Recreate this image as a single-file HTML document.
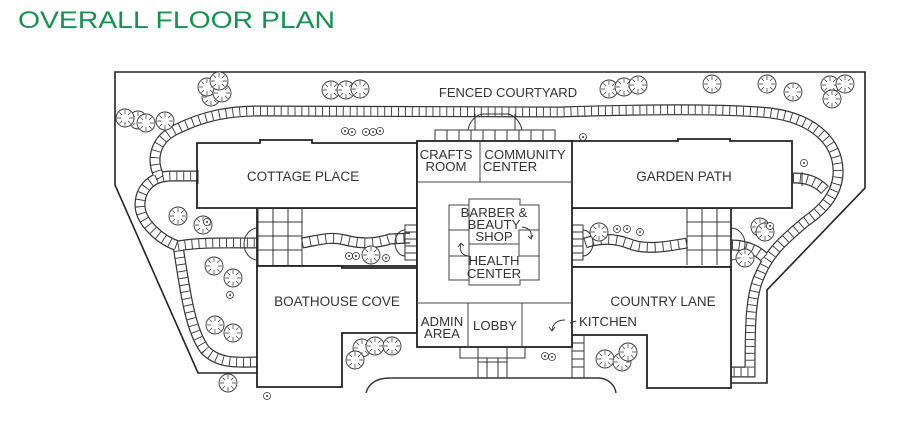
<!DOCTYPE html>
<html><head><meta charset="utf-8"><style>
html,body{margin:0;padding:0;background:#fff;width:900px;height:426px;overflow:hidden}
svg{display:block}
text{font-family:"Liberation Sans",Arial,sans-serif;fill:#333}
</style></head><body>
<svg width="900" height="426" viewBox="0 0 900 426" xmlns="http://www.w3.org/2000/svg">
<defs>
<g id="t">
<circle r="9" fill="#fff" stroke="#333" stroke-width="0.9"/>
<path d="M0,-8V-4M0,8V4M-8,0H-4M8,0H4M-5.6,-5.6L-3,-3M5.6,5.6L3,3M-5.6,5.6L-3,3M5.6,-5.6L3,-3" stroke="#333" stroke-width="0.7"/>
</g>
<g id="s"><circle r="3.5" fill="#fff" stroke="#333" stroke-width="0.8"/><circle r="1" fill="#333"/></g>
</defs>
<text x="18" y="28" font-size="24" textLength="317" lengthAdjust="spacingAndGlyphs" style="fill:#139250">OVERALL FLOOR PLAN</text>

<path d="M257,373 L198,373 L115,185 L115,72 L865,72 L865,188 L767,290 L767,383 L732,383" fill="none" stroke="#222" stroke-width="1.6"/>

<g fill="none">
<path d="M198,176 L172,176 C148,176 140,192 140,205 C140,222 160,240 178,246 C185,290 190,330 205,350 C220,365 240,362 257,362 M178,246 C200,242 230,243 258,243 M160,178 C150,160 155,140 175,130 C205,115 230,111 260,111 L560,112 C620,110 700,108 760,112 C810,115 840,140 838,175 C836,200 815,215 805,222 C790,235 770,250 760,275 C750,295 750,330 750,372 L732,372 M793,178 C805,178 815,180 825,190 M732,245 C745,245 760,250 768,262"
 stroke="#333" stroke-width="11"/>
<path d="M198,176 L172,176 C148,176 140,192 140,205 C140,222 160,240 178,246 C185,290 190,330 205,350 C220,365 240,362 257,362 M178,246 C200,242 230,243 258,243 M160,178 C150,160 155,140 175,130 C205,115 230,111 260,111 L560,112 C620,110 700,108 760,112 C810,115 840,140 838,175 C836,200 815,215 805,222 C790,235 770,250 760,275 C750,295 750,330 750,372 L732,372 M793,178 C805,178 815,180 825,190 M732,245 C745,245 760,250 768,262"
 stroke="#fff" stroke-width="8.6"/>
<path d="M198,176 L172,176 C148,176 140,192 140,205 C140,222 160,240 178,246 C185,290 190,330 205,350 C220,365 240,362 257,362 M178,246 C200,242 230,243 258,243 M160,178 C150,160 155,140 175,130 C205,115 230,111 260,111 L560,112 C620,110 700,108 760,112 C810,115 840,140 838,175 C836,200 815,215 805,222 C790,235 770,250 760,275 C750,295 750,330 750,372 L732,372 M793,178 C805,178 815,180 825,190 M732,245 C745,245 760,250 768,262"
 stroke="#333" stroke-width="8.6" stroke-dasharray="0.9,6"/>
</g>

<g fill="#fff" stroke="#222" stroke-width="1.8">
<rect x="257" y="208" width="160" height="58"/>
<rect x="571" y="208" width="160" height="59"/>
<path d="M197,143 L260,143 L260,140 L312,140 L312,143 L417,143 L417,208 L197,208 Z"/>
<path d="M571,141 L678,141 L678,139 L730,139 L730,141 L792,141 L792,208 L571,208 Z"/>
<path d="M257,266 L342,266 L342,268 L417,268 L417,333 L342,333 L342,387 L257,387 Z"/>
<path d="M571,267 L731,267 L731,388 L647,388 L647,335 L571,335 Z"/>
</g>

<!-- wing paths -->
<g fill="none">
<path d="M302,243 C320,240 330,236 345,240 C360,244 375,244 390,239 L410,238 M585,243 C600,238 615,238 630,244 C645,250 665,247 687,243" stroke="#333" stroke-width="11"/>
<path d="M302,243 C320,240 330,236 345,240 C360,244 375,244 390,239 L410,238 M585,243 C600,238 615,238 630,244 C645,250 665,247 687,243" stroke="#fff" stroke-width="8.6"/>
<path d="M302,243 C320,240 330,236 345,240 C360,244 375,244 390,239 L410,238 M585,243 C600,238 615,238 630,244 C645,250 665,247 687,243" stroke="#333" stroke-width="8.6" stroke-dasharray="0.9,7"/>
</g>

<g fill="none" stroke="#333" stroke-width="1">
<path d="M258,208V265M273,208V265M288,208V265M302,208V265M258,222H302M258,236H302M258,250H302"/>
<path d="M687,208V265M702,208V265M717,208V265M731,208V265M687,222H731M687,236H731M687,250H731"/>
<path d="M258,228 A14,16 0 0 0 258,260"/>
<path d="M731,228 A14,16 0 0 1 731,260"/>
<path d="M802,172 V186 M198,170 V184"/>
<path d="M405,225H417V260H405Z M405,232H417M405,239H417M405,246H417M405,253H417"/>
<path d="M405,230 A10,13 0 0 0 405,256"/>
<path d="M571,225H583V260H571Z M571,232H583M571,239H583M571,246H583M571,253H583"/>
<path d="M583,230 A10,13 0 0 1 583,256"/>
<path d="M435,130H555V141H435Z M447,130V141M459,130V141M471,130V141M483,130V141M495,130V141M507,130V141M519,130V141M531,130V141M543,130V141"/>
<path d="M468,130 C470,118 480,114 483,114 L507,114 C512,114 520,120 522,130 M475,114 V130 M515,114V130"/>
<path d="M460,347H525V358H460Z M478,347V378H507V347 M478,362H507 M487,358V378M498,358V378"/>
<path d="M572,335V378M584,335V378M572,343H584M572,351H584M572,359H584M572,367H584"/>
<path d="M366,393 C368,385 375,378 390,378 L598,378 C608,378 615,385 616,393" stroke-width="1.4"/>
</g>

<rect x="417" y="141" width="155" height="206" fill="#fff" stroke="#222" stroke-width="1.8"/>
<g fill="none" stroke="#444" stroke-width="1">
<path d="M417,182H572M480,141V182M417,303H572M468,303V347M522,303V347"/>
<path d="M449,205H469V199H520V205H539V280H520V285H469V280H449Z"/>
<path d="M449,230H469V280 M469,230V205 M519,230H539 M519,230V256H539 M449,256H469 M469,244H519"/>
</g>
<g stroke="#333" stroke-width="0.9" fill="none">
<path d="M522,227 C530,228 532,232 531,238 M528,236 L531,239 L533,235"/>
<path d="M470,256 C461,256 459,250 461,244 M458,247 L461,243 L464,246"/>
<path d="M565,320 C557,320 553,324 552,330 M549,327 L552,331 L555,327"/>
</g>

<g font-size="13.5" text-anchor="middle">
<text x="303" y="181">COTTAGE PLACE</text>
<text x="684" y="181">GARDEN PATH</text>
<text x="337" y="306">BOATHOUSE COVE</text>
<text x="663" y="306">COUNTRY LANE</text>
<text x="508" y="97" font-size="13">FENCED COURTYARD</text>
</g>
<g font-size="13.2" text-anchor="middle" style="fill:#444">
<text x="446" y="159">CRAFTS</text><text x="446" y="171">ROOM</text>
<text x="525" y="159">COMMUNITY</text><text x="510" y="171">CENTER</text>
<text x="494" y="217">BARBER &amp;</text><text x="494" y="229">BEAUTY</text><text x="494" y="241">SHOP</text>
<text x="494" y="265">HEALTH</text><text x="494" y="278">CENTER</text>
<text x="442" y="326">ADMIN</text><text x="442" y="338">AREA</text>
<text x="495" y="330">LOBBY</text>
<text x="608" y="326">KITCHEN</text>
</g>
<path d="M570,323 L576,321" stroke="#333"/>

<use href="#t" x="211" y="97"/><use href="#t" x="207" y="87"/><use href="#t" x="222" y="93"/><use href="#t" x="219" y="81"/>
<use href="#t" x="138" y="120"/><use href="#t" x="146" y="123"/><use href="#t" x="165" y="121"/><use href="#t" x="125" y="118"/>
<use href="#t" x="331" y="90"/><use href="#t" x="346" y="90"/><use href="#t" x="360" y="89"/>
<use href="#t" x="609" y="89"/><use href="#t" x="624" y="87"/><use href="#t" x="638" y="85"/>
<use href="#t" x="712" y="84"/><use href="#t" x="767" y="84"/><use href="#t" x="793" y="92"/>
<use href="#t" x="830" y="85"/><use href="#t" x="845" y="84"/><use href="#t" x="832" y="99"/>
<use href="#t" x="178" y="216"/><use href="#t" x="203" y="225"/>
<use href="#t" x="214" y="266"/><use href="#t" x="233" y="278"/>
<use href="#t" x="215" y="325"/><use href="#t" x="233" y="333"/>
<use href="#t" x="228" y="383"/>
<use href="#t" x="371" y="255"/>
<use href="#t" x="362" y="348"/><use href="#t" x="375" y="346"/><use href="#t" x="392" y="346"/><use href="#t" x="355" y="360"/>
<use href="#t" x="745" y="258"/><use href="#t" x="760" y="227"/><use href="#t" x="765" y="232"/>
<use href="#t" x="605" y="359"/><use href="#t" x="622" y="362"/><use href="#t" x="628" y="352"/>
<use href="#t" x="599" y="232"/>
<use href="#s" x="345" y="131"/><use href="#s" x="352" y="132"/><use href="#s" x="366" y="132"/><use href="#s" x="373" y="132"/><use href="#s" x="380" y="131"/>
<use href="#s" x="583" y="137"/><use href="#s" x="804" y="163"/><use href="#s" x="617" y="229"/><use href="#s" x="627" y="229"/><use href="#s" x="640" y="232"/>
<use href="#s" x="267" y="396"/><use href="#s" x="545" y="356"/><use href="#s" x="552" y="357"/><use href="#s" x="349" y="256"/><use href="#s" x="356" y="256"/><use href="#s" x="386" y="258"/>
<use href="#s" x="770" y="226"/><use href="#s" x="230" y="295"/><use href="#s" x="207" y="222"/>
</svg>
</body></html>
